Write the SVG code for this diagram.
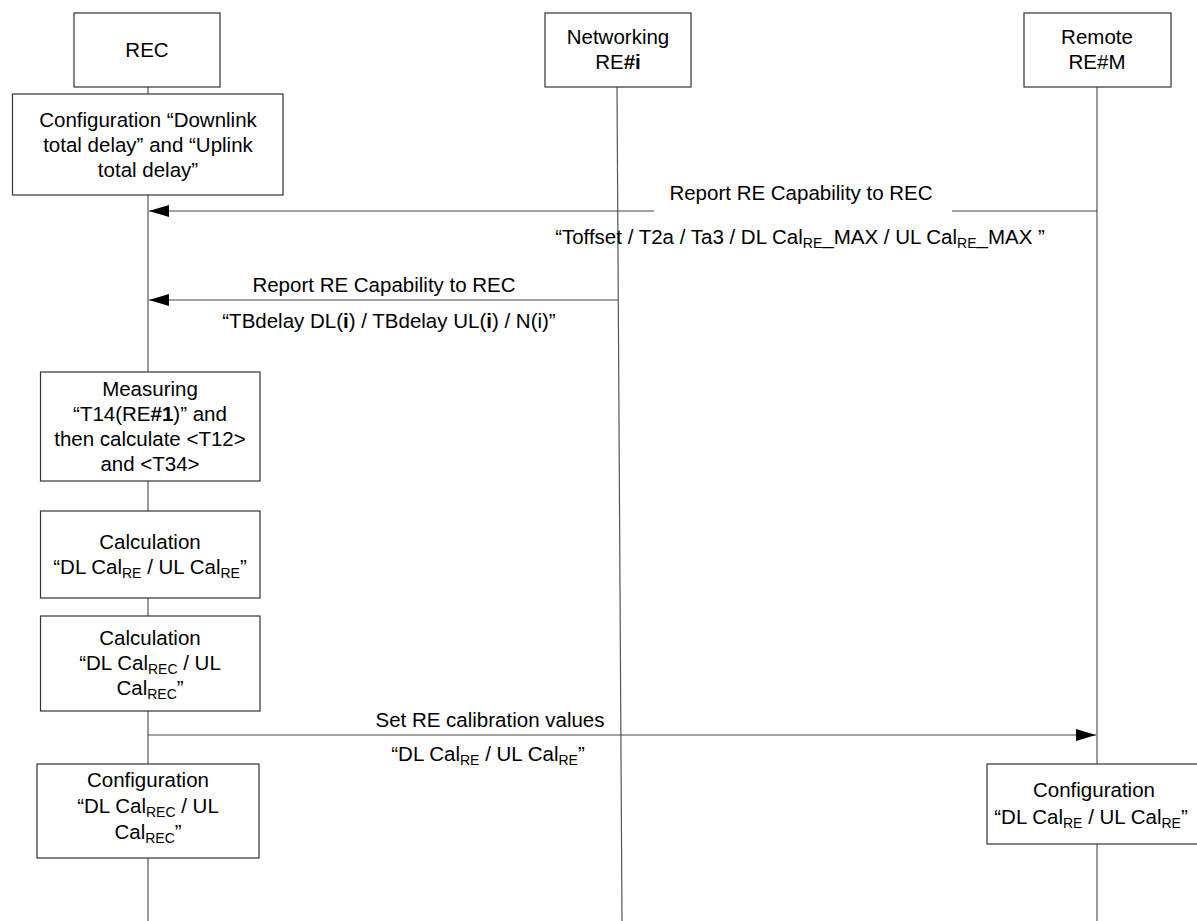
<svg xmlns="http://www.w3.org/2000/svg" width="1197" height="921" viewBox="0 0 1197 921">
<style>
  text { font-family: "Liberation Sans", Arial, sans-serif; font-size: 20.5px; fill: #000; text-anchor: middle; }
  .box { fill: #fff; stroke: #333; stroke-width: 1.2; }
  .life { stroke: #555; stroke-width: 1.2; fill: none; }
  .msg { stroke: #444; stroke-width: 1.2; fill: none; }
  .sub { font-size: 14px; }
  .b { font-weight: bold; }
</style>
<defs>
  <marker id="ah" markerUnits="userSpaceOnUse" markerWidth="20" markerHeight="12" refX="20" refY="6" orient="auto">
    <path d="M0,0 L20,6 L0,12 z" fill="#000"/>
  </marker>
</defs>
<rect width="1197" height="921" fill="#fff"/>
<g id="lifelines">
  <line class="life" x1="148" y1="87" x2="148" y2="921"/>
  <line class="life" x1="617" y1="87" x2="622" y2="921"/>
  <line class="life" x1="1097" y1="87" x2="1097" y2="921"/>
</g>
<g id="connectors">
  <path class="msg" d="M1097,211 H952 M654,211 H149" marker-end="url(#ah)"/>
  <line class="msg" x1="618" y1="300" x2="149" y2="300" marker-end="url(#ah)"/>
  <line class="msg" x1="148" y1="735" x2="1096" y2="735" marker-end="url(#ah)"/>
</g>
<g id="labels">
  <text x="801" y="200">Report RE Capability to REC</text>
  <text x="800" y="244">“Toffset / T2a / Ta3 / DL Cal<tspan class="sub" dy="4">RE</tspan><tspan dy="-4">_MAX / UL Cal</tspan><tspan class="sub" dy="4">RE</tspan><tspan dy="-4">_MAX ”</tspan></text>
  <text x="384" y="292">Report RE Capability to REC</text>
  <text x="389" y="328">“TBdelay DL(<tspan class="b">i</tspan>) / TBdelay UL(<tspan class="b">i</tspan>) / N(i)”</text>
  <text x="490" y="727">Set RE calibration values</text>
  <text x="488" y="761">“DL Cal<tspan class="sub" dy="4">RE</tspan><tspan dy="-4"> / UL Cal</tspan><tspan class="sub" dy="4">RE</tspan><tspan dy="-4">”</tspan></text>
</g>
<g id="rec">
  <rect class="box" x="74" y="13" width="146" height="74"/>
  <text x="147" y="57">REC</text>
</g>
<g id="networking">
  <rect class="box" x="545" y="13" width="146" height="74"/>
  <text x="618" y="44">Networking</text>
  <text x="618" y="69">RE<tspan class="b">#i</tspan></text>
</g>
<g id="remote">
  <rect class="box" x="1024" y="13" width="147" height="74"/>
  <text x="1097" y="44">Remote</text>
  <text x="1097" y="69">RE#M</text>
</g>
<g id="config-delay">
  <rect class="box" x="12.5" y="94" width="270.5" height="101"/>
  <text x="148" y="126.5">Configuration “Downlink</text>
  <text x="148" y="151.5">total delay” and “Uplink</text>
  <text x="148" y="176.5">total delay”</text>
</g>
<g id="measuring">
  <rect class="box" x="40.5" y="372" width="219.5" height="109"/>
  <text x="150" y="395.5">Measuring</text>
  <text x="150" y="420.5">“T14(RE<tspan class="b">#1</tspan>)” and</text>
  <text x="150" y="445.5">then calculate &lt;T12&gt;</text>
  <text x="150" y="470.5">and &lt;T34&gt;</text>
</g>
<g id="calc-re">
  <rect class="box" x="40.5" y="511" width="219.5" height="87"/>
  <text x="150" y="549">Calculation</text>
  <text x="150" y="574">“DL Cal<tspan class="sub" dy="4">RE</tspan><tspan dy="-4"> / UL Cal</tspan><tspan class="sub" dy="4">RE</tspan><tspan dy="-4">”</tspan></text>
</g>
<g id="calc-rec">
  <rect class="box" x="40.5" y="616" width="219.5" height="95"/>
  <text x="150" y="645">Calculation</text>
  <text x="150" y="670">“DL Cal<tspan class="sub" dy="4">REC</tspan><tspan dy="-4"> / UL</tspan></text>
  <text x="150" y="695">Cal<tspan class="sub" dy="4">REC</tspan><tspan dy="-4">”</tspan></text>
</g>
<g id="config-rec">
  <rect class="box" x="37" y="764" width="222" height="94"/>
  <text x="148" y="787">Configuration</text>
  <text x="148" y="813">“DL Cal<tspan class="sub" dy="4">REC</tspan><tspan dy="-4"> / UL</tspan></text>
  <text x="148" y="839">Cal<tspan class="sub" dy="4">REC</tspan><tspan dy="-4">”</tspan></text>
</g>
<g id="config-re">
  <rect class="box" x="987" y="764" width="220" height="80"/>
  <text x="1094" y="797">Configuration</text>
  <text x="1091" y="824">“DL Cal<tspan class="sub" dy="4">RE</tspan><tspan dy="-4"> / UL Cal</tspan><tspan class="sub" dy="4">RE</tspan><tspan dy="-4">”</tspan></text>
</g>
</svg>
